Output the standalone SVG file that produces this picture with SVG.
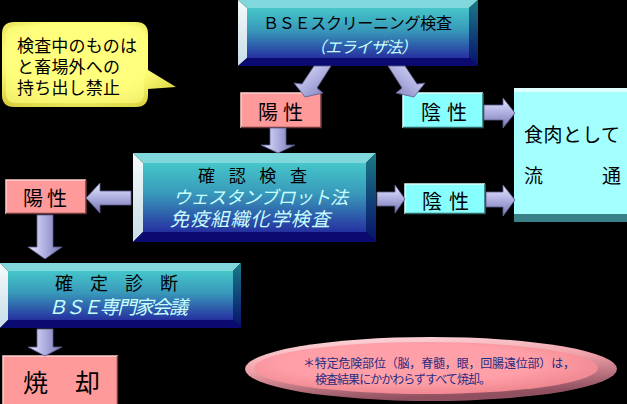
<svg xmlns="http://www.w3.org/2000/svg" width="627" height="404" viewBox="0 0 627 404">
<style>
.jp{font-family:"Liberation Sans","Noto Sans CJK JP",sans-serif;}
.blk{fill:#000;}
.it{fill:#c8ffff;font-style:italic;}
.note{font-family:"Liberation Serif","Noto Sans CJK JP",serif;fill:#2a2a80;font-size:12px;}
.arrow{stroke:#5a5a90;stroke-width:0.8;}
</style>
<defs>
<linearGradient id="face" x1="0" y1="0" x2="0" y2="1">
<stop offset="0" stop-color="#46c6ca"/>
<stop offset="0.45" stop-color="#3898ba"/>
<stop offset="1" stop-color="#2630a0"/>
</linearGradient>
<linearGradient id="bvL" x1="0" y1="0" x2="0" y2="1">
<stop offset="0" stop-color="#f4fbfb"/>
<stop offset="1" stop-color="#c8dce8"/>
</linearGradient>
<linearGradient id="bvR" x1="0" y1="0" x2="0" y2="1">
<stop offset="0" stop-color="#1a7a88"/>
<stop offset="1" stop-color="#08106a"/>
</linearGradient>
<linearGradient id="arV" x1="0" y1="0" x2="1" y2="0">
<stop offset="0" stop-color="#e8e8ff"/>
<stop offset="0.45" stop-color="#b4b4e4"/>
<stop offset="1" stop-color="#7474b0"/>
</linearGradient>
<linearGradient id="arH" x1="0" y1="0" x2="0" y2="1">
<stop offset="0" stop-color="#e8e8ff"/>
<stop offset="0.45" stop-color="#b4b4e4"/>
<stop offset="1" stop-color="#7474b0"/>
</linearGradient>
<linearGradient id="arD1" x1="0" y1="0" x2="1" y2="1">
<stop offset="0" stop-color="#e0e0ff"/>
<stop offset="0.5" stop-color="#b0b0e0"/>
<stop offset="1" stop-color="#7878b4"/>
</linearGradient>
<linearGradient id="arD2" x1="1" y1="0" x2="0" y2="1">
<stop offset="0" stop-color="#e0e0ff"/>
<stop offset="0.5" stop-color="#b0b0e0"/>
<stop offset="1" stop-color="#7878b4"/>
</linearGradient>
<radialGradient id="yel" cx="0.45" cy="0.4" r="0.7">
<stop offset="0.6" stop-color="#ffff78"/>
<stop offset="1" stop-color="#d8d040"/>
</radialGradient>
<radialGradient id="pinkEl" cx="0.45" cy="0.4" r="0.6">
<stop offset="0.6" stop-color="#ffa0a8"/>
<stop offset="1" stop-color="#f08890"/>
</radialGradient>
<linearGradient id="rim" x1="0" y1="0" x2="0.3" y2="1">
<stop offset="0" stop-color="#ffe0e4"/>
<stop offset="0.5" stop-color="#f0a0a8"/>
<stop offset="1" stop-color="#905060"/>
</linearGradient>
</defs>
<rect x="0" y="0" width="627" height="404" fill="#000"/>

<g id="callout">
<path d="M14,22 H136 Q148,22 148,34 V70 L176,87 L148,89 V95 Q148,107 136,107 H14 Q2,107 2,95 V34 Q2,22 14,22 Z" fill="url(#yel)"/>
<path d="M16,26 H134 Q144,26 144,36 V93 Q144,103 134,103 H16 Q6,103 6,93 V36 Q6,26 16,26 Z" fill="#ffff80" opacity="0.6"/>
<text class="jp blk" font-size="17" x="17" y="52" textLength="120">検査中のものは</text>
<text class="jp blk" font-size="17" x="17" y="73" textLength="103">と畜場外への</text>
<text class="jp blk" font-size="17" x="17" y="94" textLength="103">持ち出し禁止</text>
</g>

<g id="screening">
<rect x="247" y="8" width="222" height="50" fill="url(#face)"/>
<polygon points="238,0 478,0 469,8 247,8" fill="#80d8dc"/>
<polygon points="238,0 247,8 247,58 238,66" fill="url(#bvL)"/>
<polygon points="478,0 478,66 469,58 469,8" fill="url(#bvR)"/>
<polygon points="238,66 478,66 469,58 247,58" fill="#0a0a70"/>
<text class="jp blk" font-size="16" x="263" y="29" textLength="189">ＢＳＥスクリーニング検査</text>
<text class="jp it" font-size="16" x="310" y="53" textLength="107">（エライザ法）</text>
</g>

<g id="positive1">
<rect x="241" y="93" width="80" height="35" fill="#ff9a9a"/>
<path d="M241,128 V93 H321" fill="none" stroke="#ffd0d0" stroke-width="1.5"/>
<path d="M241,127.5 H321 V93" fill="none" stroke="#703838" stroke-width="1.5"/>
<text class="jp blk" font-size="20" x="258" y="120" textLength="45">陽性</text>
</g>

<g id="negative1">
<rect x="403" y="93" width="80" height="35" fill="#88ffff"/>
<path d="M403,128 V93 H483" fill="none" stroke="#e0ffff" stroke-width="1.5"/>
<path d="M403,127.5 H483 V93" fill="none" stroke="#306868" stroke-width="1.5"/>
<text class="jp blk" font-size="20" x="421" y="120" textLength="46">陰性</text>
</g>

<g id="distribution">
<rect x="514" y="88" width="113" height="134" fill="#a4ffff"/>
<rect x="514" y="88" width="113" height="4" fill="#e0ffff"/>
<rect x="514" y="214" width="113" height="8" fill="#3a8088"/>
<text class="jp blk" font-size="19" x="524" y="142" textLength="96">食肉として</text>
<text class="jp blk" font-size="19" x="524" y="183">流</text>
<text class="jp blk" font-size="19" x="602" y="183">通</text>
</g>

<g id="confirm">
<rect x="143" y="163" width="223" height="69" fill="url(#face)"/>
<polygon points="133,153 376,153 366,163 143,163" fill="#80d8dc"/>
<polygon points="133,153 143,163 143,232 133,242" fill="url(#bvL)"/>
<polygon points="376,153 376,242 366,232 366,163" fill="url(#bvR)"/>
<polygon points="133,242 376,242 366,232 143,232" fill="#0a0a70"/>
<text class="jp blk" font-size="17" x="198" y="182" textLength="109">確　認　検　査</text>
<text class="jp it" font-size="18" x="173" y="204" textLength="175">ウェスタンブロット法</text>
<text class="jp it" font-size="19" x="170" y="226" textLength="160">免疫組織化学検査</text>
</g>

<g id="negative2">
<rect x="405" y="184" width="80" height="30" fill="#88ffff"/>
<path d="M405,214 V184 H485" fill="none" stroke="#e0ffff" stroke-width="1.5"/>
<path d="M405,213.5 H485 V184" fill="none" stroke="#306868" stroke-width="1.5"/>
<text class="jp blk" font-size="20" x="422" y="209" textLength="47">陰性</text>
</g>

<g id="positive2">
<rect x="6" y="180" width="80" height="34" fill="#ff9a9a"/>
<path d="M6,214 V180 H86" fill="none" stroke="#ffd0d0" stroke-width="1.5"/>
<path d="M6,213.5 H86 V180" fill="none" stroke="#703838" stroke-width="1.5"/>
<text class="jp blk" font-size="20" x="23" y="206" textLength="44">陽性</text>
</g>

<g id="diagnosis">
<rect x="8" y="271" width="225" height="49" fill="url(#face)"/>
<polygon points="0,263 241,263 233,271 8,271" fill="#80d8dc"/>
<polygon points="0,263 8,271 8,320 0,328" fill="url(#bvL)"/>
<polygon points="241,263 241,328 233,320 233,271" fill="url(#bvR)"/>
<polygon points="0,328 241,328 233,320 8,320" fill="#0a0a70"/>
<text class="jp blk" font-size="18" x="55" y="290" textLength="123">確　定　診　断</text>
<text class="jp it" font-size="19" x="48" y="314" textLength="140">ＢＳＥ専門家会議</text>
</g>

<g id="incinerate">
<rect x="3" y="356" width="115" height="48" fill="#ff9a9a"/>
<path d="M3,404 V356 H118" fill="none" stroke="#ffd0d0" stroke-width="1.5"/>
<path d="M117.5,356 V404" fill="none" stroke="#703838" stroke-width="1.5"/>
<text class="jp blk" font-size="25" x="23" y="392" textLength="77">焼　　却</text>
</g>

<g id="note">
<ellipse cx="431" cy="369" rx="186" ry="32" fill="url(#rim)"/>
<ellipse cx="426" cy="368" rx="172" ry="26" fill="url(#pinkEl)"/>
<text class="note" x="303" y="368" textLength="272">＊特定危険部位（脳，脊髄，眼，回腸遠位部）は，</text>
<text class="note" x="315" y="384" textLength="176">検査結果にかかわらずすべて焼却。</text>
</g>

<g id="connectors">
<polygon class="arrow" fill="url(#arD1)" points="314,66 331,66 317,88 323,93 305,97 294,83 302,84"/>
<polygon class="arrow" fill="url(#arD2)" points="405,66 388,66 402,88 396,93 414,97 425,83 417,84"/>
<polygon class="arrow" fill="url(#arV)" points="270,128 286,128 286,145 295,145 278,153 261,145 270,145"/>
<polygon class="arrow" fill="url(#arH)" points="484,105 503,105 503,98 515,113 503,128 503,120 484,120"/>
<polygon class="arrow" fill="url(#arH)" points="377,192 395,192 395,185 405,199 395,213 395,206 377,206"/>
<polygon class="arrow" fill="url(#arH)" points="486,192 503,192 503,185 515,200 503,216 503,207 486,207"/>
<polygon class="arrow" fill="url(#arH)" points="131,191 100,191 100,183 86,198 100,213 100,205 131,205"/>
<polygon class="arrow" fill="url(#arV)" points="37,215 53,215 53,247 62,247 45,259 28,247 37,247"/>
<polygon class="arrow" fill="url(#arV)" points="37,329 53,329 53,347 62,347 45,356 28,347 37,347"/>
</g>
</svg>
